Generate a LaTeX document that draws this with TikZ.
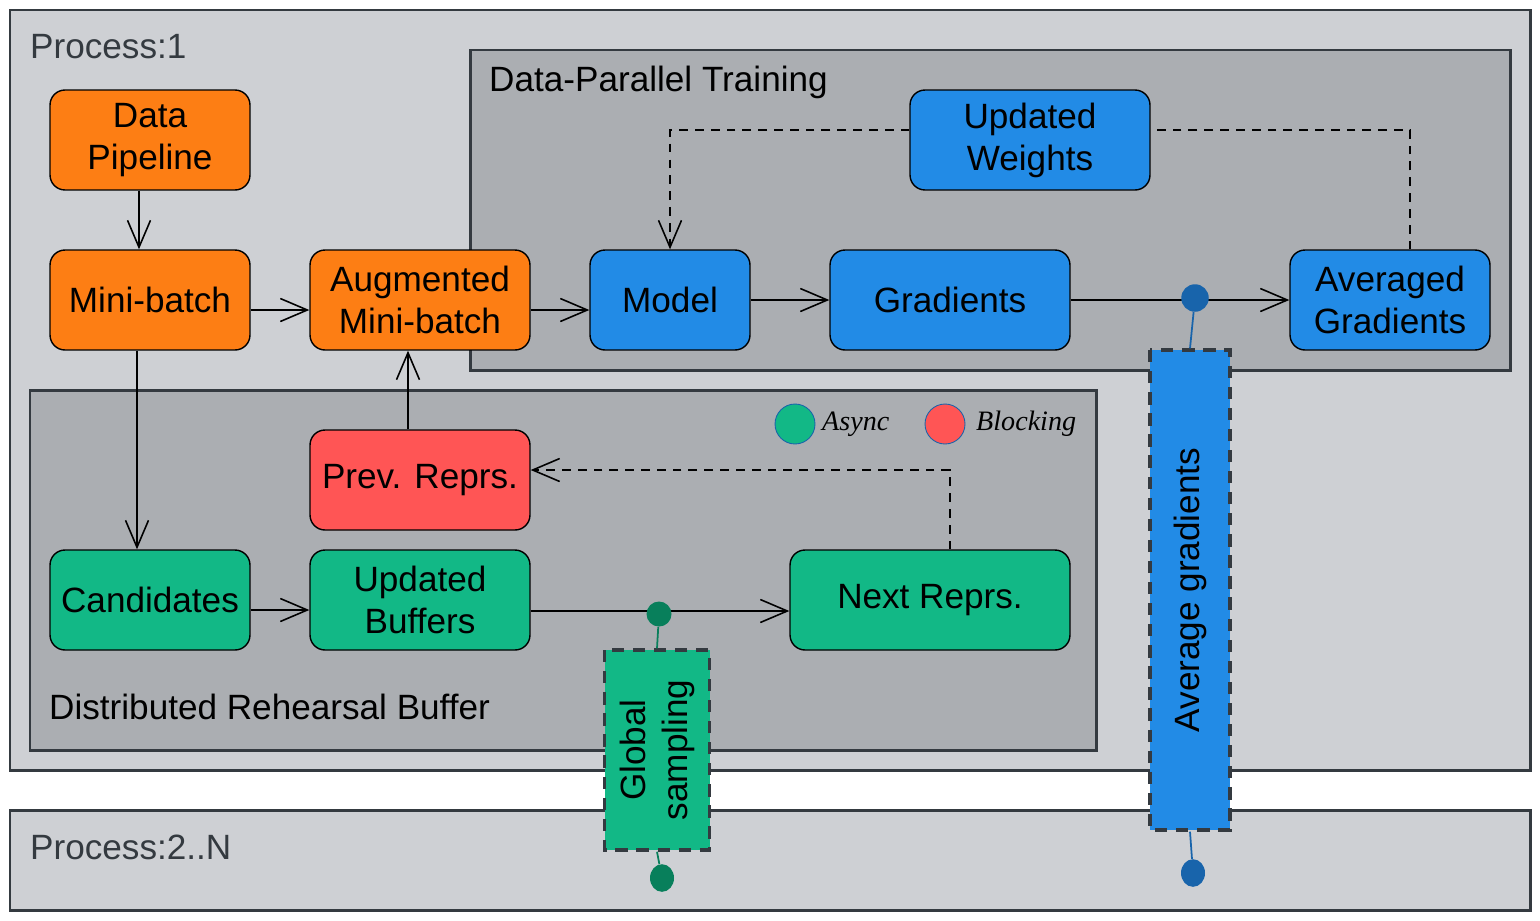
\documentclass[tikz,border=0pt]{standalone}
\usepackage{fontspec}
\setmainfont{Liberation Sans}
\newfontfamily\handfont{Liberation Serif}
\usetikzlibrary{positioning, arrows.meta, calc}
\definecolor{procgray}{HTML}{CED0D4}
\definecolor{groupgray}{HTML}{ABAEB2}
\definecolor{framedark}{HTML}{343A40}
\definecolor{pipeorange}{HTML}{FD7E14}
\definecolor{trainblue}{HTML}{228BE6}
\definecolor{buffgreen}{HTML}{12B886}
\definecolor{blockred}{HTML}{FF5555}
\definecolor{darkgreen}{HTML}{087F5B}
\definecolor{darkblue}{HTML}{1864AB}
\tikzset{
  every node/.style={font=\fontsize{20}{24}\selectfont},
  procbox/.style={draw=framedark, line width=1.7pt, fill=procgray},
  groupbox/.style={draw=framedark, line width=1.7pt, fill=groupgray},
  stage/.style={
    draw=black,
    line width=0.8pt,
    rounded corners=0.3cm,
    minimum width=4cm,
    minimum height=2cm,
    align=center,
    inner sep=2pt
  },
  commbox/.style={
    draw=framedark,
    line width=2pt,
    dash pattern=on 7pt off 5pt,
    align=center,
    inner sep=0pt
  },
  blob/.style={circle, inner sep=0pt, minimum size=0.5cm},
  flow/.style={
    -{Straight Barb[length=5.4mm, width=4.6mm, line width=0.9pt]},
    line width=0.9pt,
    draw=black
  },
  feedback/.style={flow, line width=1.1pt, dash pattern=on 5pt off 4pt}
}

\begin{document}
\begin{tikzpicture}[x=0.02cm, y=-0.02cm]
  \useasboundingbox (0,0) rectangle (1540,920);
  % process frames
  \draw[procbox] (10,10) rectangle (1530,770);
  \draw[procbox] (10,810) rectangle (1530,910);
  \node[anchor=west, text=framedark] (proc1) at (24,47) {Process:1};
  \node[anchor=west, text=framedark] (procN) at (24,847) {Process:2..N};

  % groups
  \draw[groupbox] (470,50) rectangle (1510,370);
  \draw[groupbox] (30,390) rectangle (1096,750);
  \node[anchor=west] (dptlabel) at (483,82) {Data-Parallel Training};
  \node[anchor=west] (drblabel) at (43,707) {Distributed Rehearsal Buffer};

  % legend
  \node[blob, minimum size=0.8cm, fill=buffgreen, draw=darkblue, line width=0.5pt] (asyncdot) at (795,424) {};
  \node[anchor=west, font=\fontsize{16}{18}\selectfont\handfont\itshape] (asynclbl) at (816,424) {Async};
  \node[blob, minimum size=0.8cm, fill=blockred, draw=darkblue, line width=0.5pt] (blockdot) at (945,424) {};
  \node[anchor=west, font=\fontsize{16}{18}\selectfont\handfont\itshape] (blocklbl) at (970,424) {Blocking};

  % pipeline stages
  \node[stage, fill=pipeorange] (pipeline) at (150,140) {Data\\Pipeline};
  \node[stage, fill=pipeorange] (minibatch) at (150,300) {Mini-batch};
  \node[stage, fill=pipeorange, minimum width=4.4cm] (augbatch) at (420,300) {Augmented\\Mini-batch};

  % training stages
  \node[stage, fill=trainblue, minimum width=3.2cm] (model) at (670,300) {Model};
  \node[stage, fill=trainblue, minimum width=4.8cm] (grads) at (950,300) {Gradients};
  \node[stage, fill=trainblue] (avggrads) at (1390,300) {Averaged\\Gradients};
  \node[stage, fill=trainblue, minimum width=4.8cm] (newweights) at (1030,140) {Updated\\Weights};

  % buffer stages
  \node[stage, fill=blockred, minimum width=4.4cm] (prevreprs) at (420,480) {Prev. Reprs.};
  \node[stage, fill=buffgreen] (candidates) at (150,600) {Candidates};
  \node[stage, fill=buffgreen, minimum width=4.4cm] (newbuffers) at (420,600) {Updated\\Buffers};
  \node[stage, fill=buffgreen, minimum width=5.6cm] (nextreprs) at (930,600) {Next Reprs.};

  % connectors
  \draw[flow] ([xshift=-0.22cm]pipeline.south) -- ([xshift=-0.22cm]minibatch.north);
  \draw[flow] ([yshift=-0.2cm]minibatch.east) -- ([yshift=-0.2cm]augbatch.west);
  \draw[flow] ([yshift=-0.2cm]augbatch.east) -- ([yshift=-0.2cm]model.west);
  \draw[flow] (model) -- (grads);
  \draw[flow] (grads) -- (avggrads);
  \draw[flow] ([xshift=-0.26cm]minibatch.south) -- ([xshift=-0.26cm]candidates.north);
  \draw[flow] ([yshift=-0.2cm]candidates.east) -- ([yshift=-0.2cm]newbuffers.west);
  \draw[flow] ([yshift=-0.22cm]newbuffers.east) -- ([yshift=-0.22cm]nextreprs.west);
  \draw[flow] ([xshift=-0.24cm]prevreprs.north) -- ([xshift=-0.24cm]augbatch.south);
  \draw[feedback] ([xshift=0.4cm]nextreprs.north) |- ([yshift=0.2cm]prevreprs.east);
  \draw[feedback] ([yshift=0.2cm]newweights.west) -| (model.north);
  \draw[line width=1.1pt, dash pattern=on 5pt off 4pt] ([xshift=0.4cm]avggrads.north) |- ([yshift=0.2cm]newweights.east);

  % collectives
  \node[commbox, fill=buffgreen, rotate=90, minimum width=4cm, minimum height=2.1cm] (globalsamp) at (657,750) {Global\\sampling};
  \node[commbox, fill=trainblue, rotate=90, minimum width=9.6cm, minimum height=1.6cm] (avgcomm) at (1190,590) {Average gradients};
  \node[blob, fill=darkgreen] (gblobtop) at (659,614) {};
  \node[blob, fill=darkgreen, minimum size=0.48cm, yscale=1.15] (gblobbot) at (662,878) {};
  \node[blob, fill=darkblue, minimum size=0.55cm] (bblobtop) at (1195,298) {};
  \node[blob, fill=darkblue, minimum size=0.48cm, yscale=1.15] (bblobbot) at (1193,873) {};
  \draw[darkgreen, line width=1pt] (gblobtop) -- (globalsamp.east);
  \draw[darkgreen, line width=1pt] (globalsamp.west) -- (gblobbot);
  \draw[darkblue, line width=1pt] (bblobtop) -- (avgcomm.east);
  \draw[darkblue, line width=1pt] (avgcomm.west) -- (bblobbot);
\end{tikzpicture}
\end{document}
